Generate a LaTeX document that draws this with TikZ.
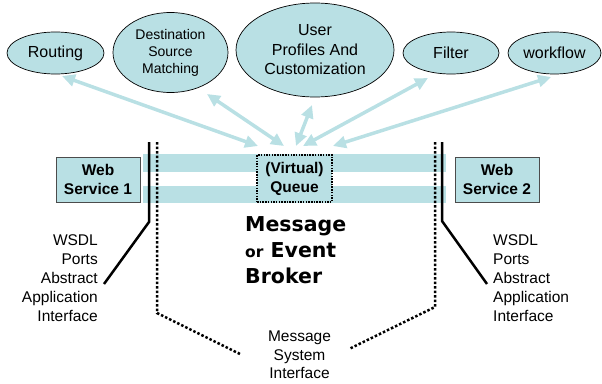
\documentclass[tikz,border=0pt]{standalone}
\usepackage{fontspec}
\setmainfont{Liberation Sans}
\newfontfamily\brokerFont{DejaVu Sans}
\usetikzlibrary{arrows.meta,shapes.geometric}
\definecolor{brokerTeal}{RGB}{185,224,228}
\tikzstyle{diagram} = [x = 1pt, y = -1pt]
\tikzstyle{serviceEllipse} = [ellipse, draw=black, line width=0.7pt, fill=brokerTeal, inner sep=0pt, align=center, font=\fontsize{16}{19.5}\selectfont]
\tikzstyle{serviceBox} = [rectangle, draw=black!70, line width=0.8pt, fill=brokerTeal, inner sep=0pt, minimum width=84pt, minimum height=45pt, align=center, font=\fontsize{15.5}{19}\selectfont\bfseries]
\tikzstyle{queueBox} = [rectangle, draw=black, line width=1.5pt, dash pattern=on 1.5pt off 1.2pt, fill=brokerTeal, inner sep=0pt, minimum width=75pt, minimum height=47pt, align=center, font=\fontsize{15.5}{19}\selectfont\bfseries]
\tikzstyle{band} = [fill=brokerTeal]
\tikzstyle{flowArrow} = [brokerTeal, line width=3.5pt, arrows={Triangle[length=13pt,width=12pt]-Triangle[length=13pt,width=12pt]}]
\tikzstyle{interfaceLine} = [black, line width=2.5pt]
\tikzstyle{systemLine} = [black, line width=2.5pt, dash pattern=on 2.5pt off 2pt]
\tikzstyle{noteText} = [inner sep=0pt, font=\fontsize{15.5}{19}\selectfont]
\begin{document}
\begin{tikzpicture}[diagram]
  \useasboundingbox (0,0) rectangle (602,383);

  % functions around the broker
  \node [serviceEllipse, minimum width=97pt, minimum height=42pt] (routing) at (55.5,53) {Routing};
  \node [serviceEllipse, minimum width=115pt, minimum height=80pt, font=\fontsize{14}{17}\selectfont] (matching) at (170.5,52.5) {Destination\\Source\\Matching};
  \node [serviceEllipse, minimum width=158pt, minimum height=94pt] (profiles) at (315,50) {User\\Profiles And\\Customization};
  \node [serviceEllipse, minimum width=96pt, minimum height=42pt] (filter) at (451,53) {Filter};
  \node [serviceEllipse, minimum width=93pt, minimum height=42pt] (workflow) at (554.5,53) {workflow};

  % queue bands
  \fill [band] (143,154) rectangle (446,172);
  \fill [band] (143,186) rectangle (446,203);
  \node [queueBox] (queue) at (294.5,178.5) {(Virtual)\\Queue};

  \node [serviceBox] (service1) at (98,179.5) {Web\\Service 1};
  \node [serviceBox] (service2) at (497,179.5) {Web\\Service 2};

  % interfaces
  \coordinate (leftTop) at (149,142);
  \coordinate (leftBend) at (149,222);
  \coordinate (leftEnd) at (104,284);
  \coordinate (rightTop) at (442,142);
  \coordinate (rightBend) at (442,221);
  \coordinate (rightEnd) at (487,284);
  \draw [interfaceLine] (leftTop) -- (leftBend) -- (leftEnd);
  \draw [interfaceLine] (rightTop) -- (rightBend) -- (rightEnd);

  \coordinate (sysLeftTop) at (157,142);
  \coordinate (sysLeftBend) at (157,313);
  \coordinate (sysLeftEnd) at (240,354);
  \coordinate (sysRightTop) at (435,142);
  \coordinate (sysRightBend) at (435,307);
  \coordinate (sysRightEnd) at (349,349);
  \draw [systemLine] (sysLeftTop) -- (sysLeftBend) -- (sysLeftEnd);
  \draw [systemLine] (sysRightTop) -- (sysRightBend) -- (sysRightEnd);

  % arrows to the queue
  \coordinate (routingTip) at (62,76);
  \coordinate (routingFoot) at (258,146);
  \coordinate (matchingTip) at (207,94);
  \coordinate (matchingFoot) at (284,146);
  \coordinate (profilesTip) at (312,105);
  \coordinate (profilesFoot) at (296,146);
  \coordinate (filterTip) at (428,78);
  \coordinate (filterFoot) at (303,146);
  \coordinate (workflowTip) at (551,77);
  \coordinate (workflowFoot) at (333,146);
  \foreach \f in {routing,matching,profiles,filter,workflow} {
    \draw [flowArrow] (\f Tip) -- (\f Foot);
  }

  % texts
  \node [noteText, anchor=east, align=right] (wsdlLeft) at (98,278.5) {WSDL\\Ports\\Abstract\\Application\\Interface};
  \node [noteText, anchor=west, align=left] (wsdlRight) at (493,278.5) {WSDL\\Ports\\Abstract\\Application\\Interface};
  \node [noteText, font=\fontsize{15.5}{18.5}\selectfont, align=center] (system) at (299.5,355) {Message\\System\\Interface};
  \node [inner sep=0pt, anchor=west, align=left, font=\brokerFont\bfseries\fontsize{20.5}{26}\selectfont] (broker) at (245,250) {Message\\{\fontsize{15.5}{26}\selectfont or} Event\\Broker};
\end{tikzpicture}
\end{document}
